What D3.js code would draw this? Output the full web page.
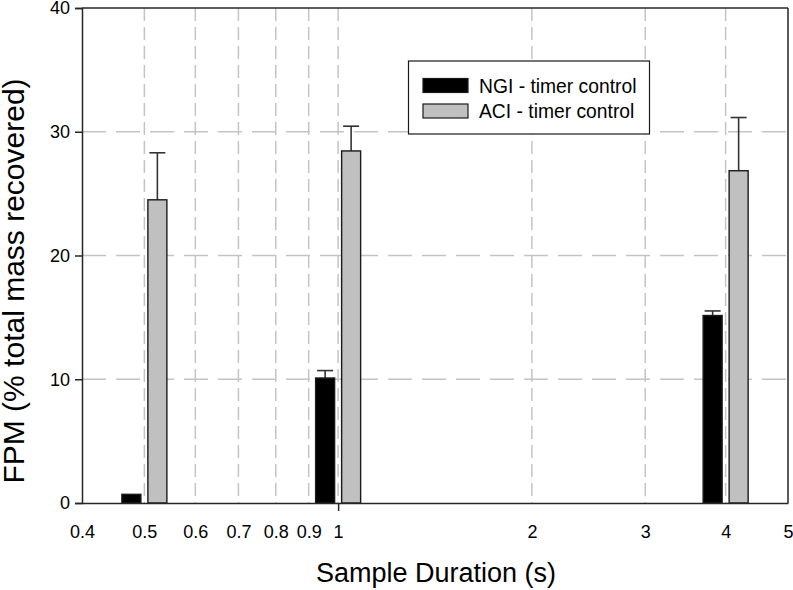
<!DOCTYPE html>
<html>
<head>
<meta charset="utf-8">
<script src="https://cdn.jsdelivr.net/npm/d3@7"></script>
<style>
  html, body { margin: 0; padding: 0; background: #fff; }
  svg { display: block; font-family: "Liberation Sans", Arial, sans-serif; }
</style>
</head>
<body>
<svg id="chart" width="793" height="590"></svg>
<script>
// ---- data ----
const durations = [0.5, 1, 4];
const ngiValues = [0.7, 10.1, 15.15];
const ngiErrors = [0, 0.6, 0.37];
const aciValues = [24.5, 28.45, 26.85];
const aciErrors = [3.8, 2.0, 4.3];
const seriesNames = ["NGI - timer control", "ACI - timer control"];
const xTickValues = [0.4, 0.5, 0.6, 0.7, 0.8, 0.9, 1, 2, 3, 4, 5];
const xGridValues = [0.5, 0.6, 0.7, 0.8, 0.9, 1, 2, 3, 4];
const yTickValues = [0, 10, 20, 30, 40];
const yGridValues = [10, 20, 30];

// ---- layout ----
const W = 793, H = 590;
const m = { left: 82, right: 5, top: 8, bottom: 87 };
const svg = d3.select("#chart");

const x = d3.scaleLog().domain([0.4, 5]).range([m.left, W - m.right]);
const y = d3.scaleLinear().domain([0, 40]).range([H - m.bottom, m.top]);

const gridColor = "#c4c4c4";
const axisColor = "#262626";

// grid
svg.append("g").selectAll("line").data(xGridValues).join("line")
  .attr("x1", d => x(d)).attr("x2", d => x(d))
  .attr("y1", y(40)).attr("y2", y(0))
  .attr("stroke", gridColor).attr("stroke-width", 1.5)
  .attr("stroke-dasharray", "13,6");
svg.append("g").selectAll("line").data(yGridValues).join("line")
  .attr("x1", x(0.4)).attr("x2", x(5))
  .attr("y1", d => y(d)).attr("y2", d => y(d))
  .attr("stroke", gridColor).attr("stroke-width", 1.5)
  .attr("stroke-dasharray", "24,10");

// bars
const barW = 19, off = 13;
const series = [
  { vals: ngiValues, errs: ngiErrors, fill: "#000000", dx: -off },
  { vals: aciValues, errs: aciErrors, fill: "#c0c0c0", dx: off }
];
series.forEach(s => {
  const g = svg.append("g");
  // error bars (upper only)
  const eg = g.selectAll("g.err").data(durations.map((d, i) => ({ d, v: s.vals[i], e: s.errs[i] })).filter(o => o.e > 0))
    .join("g");
  eg.append("line")
    .attr("x1", o => x(o.d) + s.dx).attr("x2", o => x(o.d) + s.dx)
    .attr("y1", o => y(o.v)).attr("y2", o => y(o.v + o.e))
    .attr("stroke", "#333").attr("stroke-width", 1.6);
  eg.append("line")
    .attr("x1", o => x(o.d) + s.dx - 8).attr("x2", o => x(o.d) + s.dx + 8)
    .attr("y1", o => y(o.v + o.e)).attr("y2", o => y(o.v + o.e))
    .attr("stroke", "#333").attr("stroke-width", 1.6);
  g.selectAll("rect").data(durations.map((d, i) => ({ d, v: s.vals[i] }))).join("rect")
    .attr("x", o => x(o.d) + s.dx - barW / 2)
    .attr("y", o => y(o.v))
    .attr("width", barW)
    .attr("height", o => y(0) - y(o.v))
    .attr("fill", s.fill)
    .attr("stroke", "#1a1a1a").attr("stroke-width", 1.4);
});

// frame (top, right)
svg.append("line").attr("x1", x(0.4)).attr("x2", x(5)).attr("y1", y(40)).attr("y2", y(40))
  .attr("stroke", axisColor).attr("stroke-width", 1.5);
svg.append("line").attr("x1", x(5)).attr("x2", x(5)).attr("y1", y(40)).attr("y2", y(0))
  .attr("stroke", axisColor).attr("stroke-width", 1.5);

// y axis
const yAxis = d3.axisLeft(y).tickValues(yTickValues).tickSize(7).tickPadding(5).tickFormat(d3.format("d"));
const gy = svg.append("g").attr("transform", `translate(${m.left},0)`).call(yAxis);
gy.select(".domain").attr("stroke", axisColor).attr("stroke-width", 1.5);
gy.selectAll(".tick line").attr("stroke", axisColor).attr("stroke-width", 1.5);
gy.selectAll(".tick text").attr("font-size", 18).attr("fill", "#000")
  .attr("font-family", "Liberation Sans, Arial, sans-serif");

// x axis
const xAxis = d3.axisBottom(x).tickValues(xTickValues).tickSize(0).tickPadding(22)
  .tickFormat(d => String(d));
const gx = svg.append("g").attr("transform", `translate(0,${y(0)})`).call(xAxis);
gx.select(".domain").attr("stroke", axisColor).attr("stroke-width", 1.5);
gx.selectAll(".tick text").attr("font-size", 18).attr("fill", "#000")
  .attr("font-family", "Liberation Sans, Arial, sans-serif");
// major tick at 1
gx.selectAll(".tick").filter(d => d === 1).select("line")
  .attr("y2", 8).attr("stroke", axisColor).attr("stroke-width", 1.5);

// axis titles
svg.append("text").attr("x", 436).attr("y", 582).attr("text-anchor", "middle")
  .attr("font-size", 27).attr("fill", "#000").text("Sample Duration (s)");
svg.append("text").attr("transform", `translate(24,${281}) rotate(-90)`).attr("text-anchor", "middle")
  .attr("font-size", 30).attr("fill", "#000").text("FPM (% total mass recovered)");

// legend
const lg = svg.append("g");
lg.append("rect").attr("x", 408.5).attr("y", 61).attr("width", 241).attr("height", 73)
  .attr("fill", "#fff").attr("stroke", "#1a1a1a").attr("stroke-width", 1.2);
seriesNames.forEach((name, i) => {
  const yy = 78.5 + i * 25.5;
  lg.append("rect").attr("x", 423).attr("y", yy).attr("width", 45).attr("height", 14)
    .attr("fill", series[i].fill).attr("stroke", "#1a1a1a").attr("stroke-width", 1.2);
  lg.append("text").attr("x", 479).attr("y", yy + 14).attr("font-size", 19.3).attr("fill", "#000").text(name);
});
</script>
</body>
</html>
